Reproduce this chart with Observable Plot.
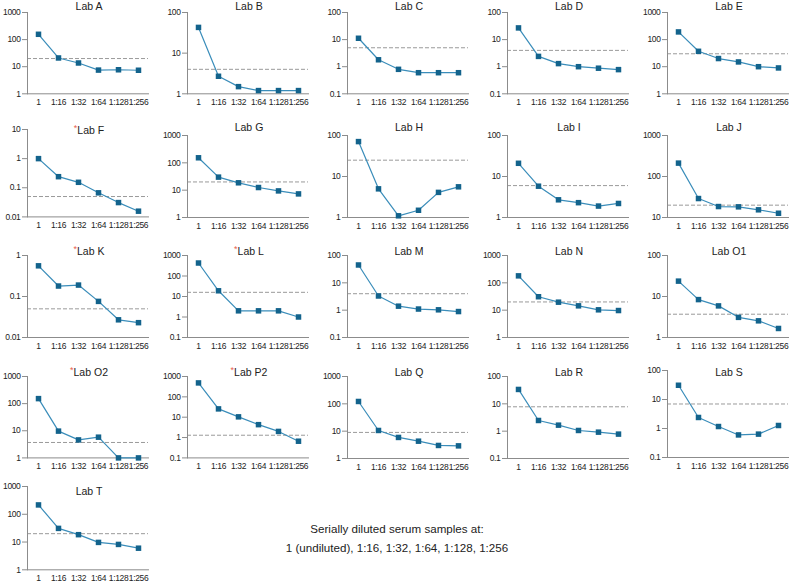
<!DOCTYPE html>
<html><head><meta charset="utf-8">
<script src="https://cdn.jsdelivr.net/npm/d3@7"></script>
<script src="https://cdn.jsdelivr.net/npm/@observablehq/plot@0.6"></script>
<style>
body{margin:0;background:#fff;font-family:"Liberation Sans",Arial,Helvetica,sans-serif;}
#chart{position:relative;width:800px;height:582px;overflow:hidden;}
.panel{position:absolute;}
.title{position:absolute;font-size:10.5px;color:#222;transform:translate(-50%,-50%);white-space:nowrap;}
.star{color:#e8604f;font-size:9px;position:relative;top:-3px;}
.caption{position:absolute;font-size:11.6px;color:#222;transform:translate(-50%,-50%);white-space:nowrap;}
</style></head>
<body><div id="chart"></div>
<script>
// ---- data ----
const dilutions = ["1", "1:16", "1:32", "1:64", "1:128", "1:256"];
const labs = ["Lab A","Lab B","Lab C","Lab D","Lab E",
              "Lab F","Lab G","Lab H","Lab I","Lab J",
              "Lab K","Lab L","Lab M","Lab N","Lab O1",
              "Lab O2","Lab P2","Lab Q","Lab R","Lab S",
              "Lab T"];
const starredLabs = ["Lab F","Lab K","Lab L","Lab O2","Lab P2"];
const labValues = [
  [157, 21, 13.7, 7.5, 7.7, 7.4],
  [43, 2.7, 1.5, 1.2, 1.2, 1.2],
  [11.2, 1.8, 0.8, 0.6, 0.6, 0.6],
  [27, 2.4, 1.3, 1.0, 0.88, 0.78],
  [192, 37, 20, 15, 10, 9],
  [1.0, 0.24, 0.154, 0.067, 0.031, 0.0157],
  [153, 30, 18.6, 12.5, 9.4, 7.3],
  [71, 5.0, 1.1, 1.5, 4.1, 5.6],
  [21, 5.8, 2.7, 2.3, 1.9, 2.2],
  [212, 29, 18.5, 18.2, 15.4, 12.7],
  [0.56, 0.18, 0.19, 0.076, 0.027, 0.023],
  [430, 19, 2, 2, 2, 1],
  [45, 3.3, 1.4, 1.1, 1.03, 0.89],
  [180, 31, 19.6, 14.4, 10.3, 9.7],
  [23.7, 8.4, 5.9, 3.1, 2.55, 1.66],
  [153, 9.7, 4.6, 5.8, 1, 1],
  [484, 25.6, 10.4, 4.3, 2.0, 0.66],
  [122, 10.6, 5.9, 4.3, 3.0, 2.9],
  [33.6, 2.46, 1.66, 1.06, 0.92, 0.78],
  [31, 2.4, 1.17, 0.6, 0.64, 1.27],
  [217, 31, 18.4, 9.7, 8.2, 6.0]
];
const thresholds = [20, 4, 5, 4, 30, 0.05, 20, 25, 6, 20, 0.05, 16, 4, 20, 3.7, 3.7, 1.3, 9, 7.8, 7, 20];
const yMin = [1, 1, 0.1, 0.1, 1, 0.01, 1, 1, 1, 10, 0.01, 0.1, 0.1, 1, 1, 1, 0.1, 1, 0.1, 0.1, 1];
const yMax = [1000, 100, 100, 100, 1000, 10, 1000, 100, 100, 1000, 1, 1000, 100, 1000, 100, 1000, 1000, 1000, 100, 100, 1000];
const captionLines = ["Serially diluted serum samples at:", "1 (undiluted), 1:16, 1:32, 1:64, 1:128, 1:256"];

// ---- layout ----
const plotTop = [12,12,12,12,12, 129.3,134.7,134.7,134.7,134.7, 254.7,254.7,254.7,254.7,254.7, 376.3,376.3,376.3,376.3,370, 486];
const plotBottom = [93.3,93.3,93.3,93.3,93.3, 216.7,216.7,216.7,216.7,216.7, 336.7,336.7,336.7,336.7,336.7, 457.7,457.7,458.3,458.3,457, 569.3];
const titleY = [6,6,6,6,6, 130,127,127,127,127, 251,251,251,251,251, 372,372,372,372,372, 490.7];

const chart = document.getElementById("chart");
const axisGray = "#8c8c8c";
const lineColor = "#3a8dba";
const markColor = "#13638c";
const mt = 4, mb = 18;

labs.forEach((lab, i) => {
  const col = i % 5;
  const data = dilutions.map((d, j) => ({dilution: d, value: labValues[i][j]}));
  const lo = Math.round(Math.log10(yMin[i])), hi = Math.round(Math.log10(yMax[i]));
  const ticks = d3.range(lo, hi + 1).map(k => 10 ** k);
  const h = plotBottom[i] - plotTop[i];
  const svg = Plot.plot({
    width: 160,
    height: mt + h + mb,
    marginLeft: 27, marginRight: 12, marginTop: mt, marginBottom: mb,
    style: {fontSize: "8.5px", letterSpacing: "-0.35px", fontFamily: "'Liberation Sans', Arial, Helvetica, sans-serif", background: "transparent"},
    x: {type: "point", domain: dilutions, padding: 0.5},
    y: {type: "log", domain: [yMin[i], yMax[i]]},
    marks: [
      Plot.ruleY([thresholds[i]], {stroke: "#9a9a9a", strokeDasharray: "4,2", strokeWidth: 1}),
      Plot.frame({anchor: "left", stroke: axisGray}),
      Plot.frame({anchor: "bottom", stroke: axisGray}),
      Plot.axisY({ticks, tickFormat: d3.format("~g"), tickSize: 5, tickPadding: 2, stroke: axisGray, fill: "#222", label: null}),
      Plot.axisX({tickSize: 0, tickPadding: 5, fill: "#222", label: null}),
      Plot.line(data, {x: "dilution", y: "value", stroke: lineColor, strokeWidth: 1.2}),
      Plot.dot(data, {x: "dilution", y: "value", symbol: "square", fill: markColor, r: 3.1})
    ]
  });
  svg.classList.add("panel");
  svg.style.left = (160 * col) + "px";
  svg.style.top = (plotTop[i] - mt) + "px";
  chart.appendChild(svg);

  const t = document.createElement("div");
  t.className = "title";
  t.style.left = (160 * col + 89) + "px";
  t.style.top = titleY[i] + "px";
  if (starredLabs.includes(lab)) {
    const s = document.createElement("span");
    s.className = "star";
    s.textContent = "*";
    t.appendChild(s);
  }
  t.appendChild(document.createTextNode(lab));
  chart.appendChild(t);
});

captionLines.forEach((line, k) => {
  const c = document.createElement("div");
  c.className = "caption";
  c.style.left = "397px";
  c.style.top = (528 + 19 * k) + "px";
  c.textContent = line;
  chart.appendChild(c);
});
</script>
</body></html>
